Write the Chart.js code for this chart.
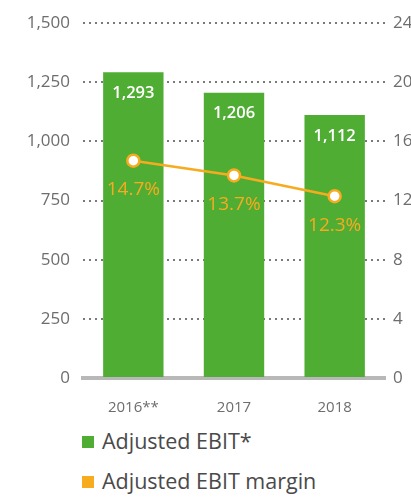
<!DOCTYPE html>
<html>
<head>
<meta charset="utf-8">
<script src="https://cdn.jsdelivr.net/npm/chart.js@4"></script>
<style>
  html, body { margin: 0; padding: 0; background: #fff; overflow: hidden; width: 411px; height: 497px; }
  #wrap { position: absolute; left: 0; top: 0; width: 440px; height: 425px; }
  .legend { position: absolute; left: 82px; font-family: "Open Sans", sans-serif; font-size: 21.5px; color: #4a4a4a; line-height: 26px; }
  .legend span { display: inline-block; width: 12px; height: 12px; margin-right: 8px; vertical-align: 1px; }
</style>
</head>
<body>
<div id="wrap"><canvas id="chart"></canvas></div>
<div class="legend" style="top:428px"><span style="background:#50ad33"></span>Adjusted EBIT*</div>
<div class="legend" style="top:468px"><span style="background:#f7ab1f"></span>Adjusted EBIT margin</div>
<script>
const categories = ['2016**', '2017', '2018'];
const ebit = [1293, 1206, 1112];
const margin = [14.7, 13.7, 12.3];

const green = '#50ad33';
const orange = '#f7ab1f';

// draws the value labels on bars and under the line points
const valueLabels = {
  id: 'valueLabels',
  afterDatasetsDraw(chart) {
    const ctx = chart.ctx;
    ctx.save();
    ctx.textAlign = 'center';
    ctx.textBaseline = 'middle';
    chart.getDatasetMeta(1).data.forEach((bar, i) => {
      ctx.font = '600 16.5px "Open Sans"';
      ctx.fillStyle = '#ffffff';
      ctx.fillText(ebit[i].toLocaleString('en-US'), bar.x, bar.y + 21);
    });
    chart.getDatasetMeta(0).data.forEach((pt, i) => {
      ctx.font = '19px "Open Sans"';
      ctx.fillStyle = orange;
      ctx.fillText(margin[i].toFixed(1) + '%', pt.x, pt.y + 29);
    });
    ctx.restore();
  }
};

new Chart(document.getElementById('chart'), {
  data: {
    labels: categories,
    datasets: [
      {
        type: 'line',
        label: 'Adjusted EBIT margin',
        data: margin,
        yAxisID: 'y2',
        borderColor: orange,
        borderWidth: 2.5,
        pointRadius: 6,
        pointBorderWidth: 2.5,
        pointBackgroundColor: '#ffffff',
        pointBorderColor: orange,
        order: 0
      },
      {
        type: 'bar',
        label: 'Adjusted EBIT*',
        data: ebit,
        yAxisID: 'y',
        backgroundColor: green,
        barPercentage: 0.6,
        categoryPercentage: 1,
        order: 1
      }
    ]
  },
  options: {
    responsive: true,
    maintainAspectRatio: false,
    animation: false,
    layout: { padding: { top: 22 } },
    plugins: {
      legend: { display: false },
      tooltip: { enabled: false }
    },
    scales: {
      x: {
        afterFit: s => { s.height = 47; },
        grid: { display: false, drawTicks: false },
        border: { display: true, color: '#b8b8b8', width: 4 },
        ticks: { color: '#6d6d6d', font: { family: 'Open Sans', size: 15 }, padding: 21 }
      },
      y: {
        position: 'left',
        min: 0, max: 1500,
        afterFit: s => { s.width = 83; },
        ticks: { stepSize: 250, color: '#6d6d6d', font: { family: 'Open Sans', size: 17 }, padding: 13 },
        grid: {
          drawTicks: false,
          color: c => c.tick && c.tick.value === 0 ? 'rgba(0,0,0,0)' : '#7a7a7a',
          lineWidth: 2
        },
        border: { display: false, dash: [2, 4] }
      },
      y2: {
        position: 'right',
        min: 0, max: 24,
        afterFit: s => { s.width = 55; },
        ticks: { stepSize: 4, color: '#6d6d6d', font: { family: 'Open Sans', size: 17 }, padding: 8 },
        grid: { display: false, drawTicks: false },
        border: { display: false }
      }
    }
  },
  plugins: [valueLabels]
});
</script>
</body>
</html>
